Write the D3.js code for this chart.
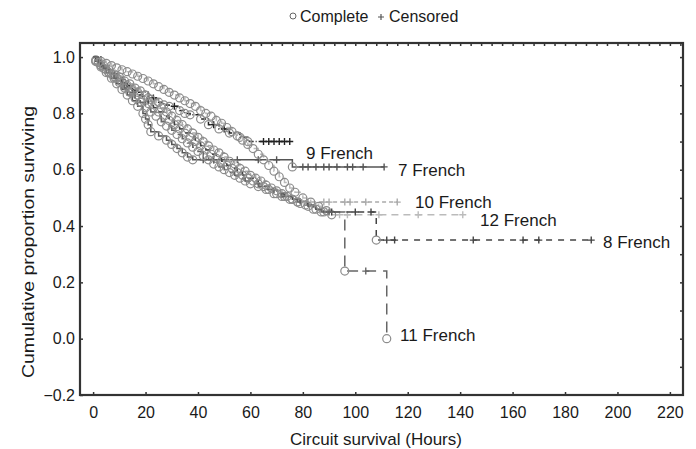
<!DOCTYPE html>
<meta charset="utf-8">
<style>
  body { margin: 0; background: white; }
  text { font-family: "Liberation Sans", Arial, sans-serif; fill: #1a1a1a; }
  .frame { fill: none; stroke: #333; stroke-width: 2.2; }
</style>
<body>
<script src="https://d3js.org/d3.v7.min.js"></script>
<script>
var width = 696, height = 449;

// tick values
var xTicks = [0, 20, 40, 60, 80, 100, 120, 140, 160, 180, 200, 220];
var yTicks = [-0.2, 0.0, 0.2, 0.4, 0.6, 0.8, 1.0];

var names = ["9 French", "7 French", "10 French", "12 French", "8 French", "11 French"];

// [hours, proportion surviving] at each complete event, and at each censored case
var complete9 = [[3,0.97],[6,0.945],[8,0.93],[10,0.92],[13,0.90],[15,0.885],[17,0.875],[21,0.855],[25,0.84],[27,0.83],[29,0.825],[33,0.81],[35,0.80],[37,0.795],[41,0.78],[44,0.76],[48,0.745],[52,0.73],[56,0.715],[59,0.70]];
var censored9 = [[23,0.855],[31,0.825],[46,0.76],[50,0.745],[65,0.70],[67,0.70],[69,0.70],[71,0.70],[73,0.70],[75,0.70]];

var complete7 = [[1,0.985],[3,0.965],[5,0.945],[7,0.925],[9,0.905],[11,0.885],[13,0.865],[15,0.845],[17,0.825],[19,0.80],[20,0.78],[21,0.76],[22,0.735],[25,0.72],[28,0.705],[30,0.69],[32,0.675],[34,0.66],[36,0.645],[38,0.635],[76,0.61]];
var censored7 = [[42,0.635],[46,0.635],[55,0.635],[63,0.635],[70,0.635],[80,0.61],[82,0.61],[85,0.61],[88,0.61],[90,0.61],[93,0.61],[97,0.61],[99,0.61],[103,0.61],[111,0.61]];

var complete10 = [[2,0.985],[4,0.97],[6,0.955],[8,0.94],[10,0.93],[12,0.915],[14,0.905],[16,0.89],[18,0.88],[20,0.865],[22,0.85],[24,0.835],[26,0.82],[28,0.805],[30,0.79],[32,0.775],[34,0.76],[36,0.745],[38,0.73],[40,0.715],[42,0.70],[44,0.685],[46,0.67],[48,0.66],[50,0.645],[52,0.63],[54,0.62],[56,0.605],[58,0.595],[60,0.58],[62,0.57],[64,0.56],[66,0.545],[68,0.535],[70,0.525],[72,0.515],[74,0.505],[76,0.495],[78,0.485]];
var censored10 = [[82,0.485],[88,0.485],[90,0.485],[96,0.485],[98,0.485],[104,0.485],[116,0.485]];

var complete12 = [[1,0.99],[3,0.985],[5,0.978],[7,0.97],[9,0.962],[11,0.955],[13,0.948],[15,0.94],[17,0.932],[19,0.924],[21,0.915],[23,0.905],[25,0.895],[27,0.885],[29,0.875],[31,0.865],[33,0.855],[35,0.845],[37,0.835],[39,0.825],[41,0.81],[43,0.80],[45,0.79],[47,0.775],[49,0.765],[51,0.75],[53,0.735],[55,0.72],[57,0.705],[59,0.69],[61,0.675],[63,0.655],[65,0.635],[67,0.615],[69,0.595],[71,0.575],[73,0.555],[75,0.535],[77,0.52],[80,0.50],[83,0.485],[86,0.47],[89,0.455],[91,0.44]];
var censored12 = [[94,0.44],[97,0.44],[109,0.44],[124,0.44],[141,0.44]];

var complete8 = [[1,0.985],[3,0.97],[5,0.955],[7,0.94],[9,0.925],[11,0.91],[13,0.895],[15,0.88],[17,0.865],[19,0.85],[21,0.835],[23,0.82],[25,0.805],[27,0.79],[29,0.775],[31,0.76],[33,0.745],[35,0.73],[37,0.715],[39,0.70],[41,0.685],[43,0.67],[45,0.655],[47,0.64],[49,0.63],[51,0.615],[53,0.605],[55,0.59],[57,0.58],[59,0.57],[61,0.56],[63,0.55],[65,0.54],[67,0.53],[70,0.515],[73,0.505],[76,0.495],[79,0.48],[82,0.47],[85,0.46],[88,0.45],[108,0.35]];
var censored8 = [[91,0.45],[100,0.45],[106,0.45],[112,0.35],[115,0.35],[145,0.35],[164,0.35],[170,0.35],[190,0.35]];

var complete11 = [[2,0.98],[4,0.96],[6,0.945],[8,0.925],[10,0.91],[12,0.89],[14,0.875],[16,0.855],[18,0.84],[20,0.82],[22,0.805],[24,0.79],[26,0.77],[28,0.755],[30,0.74],[32,0.725],[34,0.71],[36,0.695],[38,0.68],[40,0.665],[42,0.65],[44,0.635],[46,0.62],[48,0.61],[50,0.60],[52,0.59],[54,0.58],[56,0.57],[58,0.56],[60,0.55],[63,0.54],[66,0.53],[69,0.515],[72,0.505],[75,0.495],[78,0.485],[81,0.475],[84,0.46],[87,0.45],[96,0.24],[112,0.0]];
var censored11 = [[90,0.45],[104,0.24]];

// where each curve's name sits, in data units
var labelX = [81.2, 116.3, 122.8, 147.6, 194.5, 117.1];
var labelY = [0.659, 0.599, 0.485, 0.421, 0.343, 0.013];

var curves = [
  {name: names[0], complete: complete9, censored: censored9, color: "#222", dash: "5,2,1,2"},
  {name: names[1], complete: complete7, censored: censored7, color: "#555", dash: null},
  {name: names[2], complete: complete10, censored: censored10, color: "#aaa", dash: "4,3"},
  {name: names[3], complete: complete12, censored: censored12, color: "#bbb", dash: "7,5"},
  {name: names[4], complete: complete8, censored: censored8, color: "#444", dash: "6,6"},
  {name: names[5], complete: complete11, censored: censored11, color: "#666", dash: "11,7"}
];

var svg = d3.select("body").append("svg")
  .attr("width", width)
  .attr("height", height);

var x = d3.scaleLinear().domain([-5, 225]).range([80, 683]);
var y = d3.scaleLinear().domain([-0.2, 1.05]).range([395, 43]);

// axes, ticks point inward
svg.append("g")
  .attr("transform", "translate(0," + y(-0.2) + ")")
  .call(d3.axisBottom(x).tickValues(xTicks).tickSize(-3).tickPadding(12).tickFormat(d3.format("d")))
  .call(function(g) { g.select(".domain").remove(); });

svg.append("g")
  .attr("transform", "translate(" + x(-5) + ",0)")
  .call(d3.axisLeft(y).tickValues(yTicks).tickSize(-3).tickPadding(5).tickFormat(function(d) { return d3.format(".1f")(d).replace("-", "\u2212"); }))
  .call(function(g) { g.select(".domain").remove(); });

svg.selectAll(".tick text").style("font-size", "16px").style("font-family", "'Liberation Sans', Arial, sans-serif").attr("fill", "#1a1a1a");
svg.selectAll(".tick line").attr("stroke", "#333").attr("stroke-width", 1.5);

// small ticks along the top and right borders
svg.append("g")
  .attr("transform", "translate(0," + y(1.05) + ")")
  .call(d3.axisTop(x).tickValues(d3.range(0, 225, 4)).tickSize(-3).tickFormat(""))
  .call(function(g) { g.select(".domain").remove(); g.selectAll("line").attr("stroke", "#333").attr("stroke-width", 1.5); });

svg.append("g")
  .attr("transform", "translate(" + x(225) + ",0)")
  .call(d3.axisRight(y).tickValues(d3.range(-1, 11).map(function(i) { return i / 10; })).tickSize(-3).tickFormat(""))
  .call(function(g) { g.select(".domain").remove(); g.selectAll("line").attr("stroke", "#333").attr("stroke-width", 1.5); });

svg.append("rect")
  .attr("class", "frame")
  .attr("x", x(-5)).attr("y", y(1.05))
  .attr("width", x(225) - x(-5)).attr("height", y(-0.2) - y(1.05));

var line = d3.line()
  .x(function(d) { return x(d[0]); })
  .y(function(d) { return y(d[1]); })
  .curve(d3.curveStepAfter);

curves.forEach(function(c, i) {
  var pts = [[0, 1]].concat(c.complete).concat(c.censored).sort(function(a, b) { return a[0] - b[0]; });
  var g = svg.append("g");

  g.append("path")
    .datum(pts)
    .attr("d", line)
    .attr("fill", "none")
    .attr("stroke", c.color)
    .attr("stroke-width", 1.5)
    .attr("stroke-dasharray", c.dash);

  g.selectAll("circle")
    .data(c.complete)
    .enter().append("circle")
    .attr("cx", function(d) { return x(d[0]); })
    .attr("cy", function(d) { return y(d[1]); })
    .attr("r", 4)
    .attr("fill", "none")
    .attr("stroke", "#8c8c8c")
    .attr("stroke-width", 1.2);

  g.selectAll("path.cens")
    .data(c.censored)
    .enter().append("path")
    .attr("class", "cens")
    .attr("d", function(d) {
      var px = x(d[0]), py = y(d[1]);
      return "M" + (px - 3.5) + "," + py + "H" + (px + 3.5) + "M" + px + "," + (py - 3.5) + "V" + (py + 3.5);
    })
    .attr("stroke", c.color)
    .attr("stroke-width", 1.4);

  svg.append("text")
    .attr("x", x(labelX[i]))
    .attr("y", y(labelY[i]))
    .attr("dy", "0.35em")
    .style("font-size", "17px")
    .text(c.name);
});

// legend
var legend = svg.append("g");
legend.append("circle").attr("cx", 293).attr("cy", 16).attr("r", 3).attr("fill", "none").attr("stroke", "#666");
legend.append("text").attr("x", 300).attr("y", 22).style("font-size", "16px").text("Complete");
legend.append("path").attr("d", "M378,17H384M381,14V20").attr("stroke", "#555").attr("stroke-width", 1.2);
legend.append("text").attr("x", 389).attr("y", 22).style("font-size", "16px").text("Censored");

// axis titles
svg.append("text")
  .attr("x", 376).attr("y", 445)
  .attr("text-anchor", "middle")
  .style("font-size", "17px")
  .text("Circuit survival (Hours)");

svg.append("text")
  .attr("transform", "translate(34,242) rotate(-90)")
  .attr("text-anchor", "middle")
  .attr("textLength", 272)
  .attr("lengthAdjust", "spacingAndGlyphs")
  .style("font-size", "17px")
  .text("Cumulative proportion surviving");
</script>
</body>
